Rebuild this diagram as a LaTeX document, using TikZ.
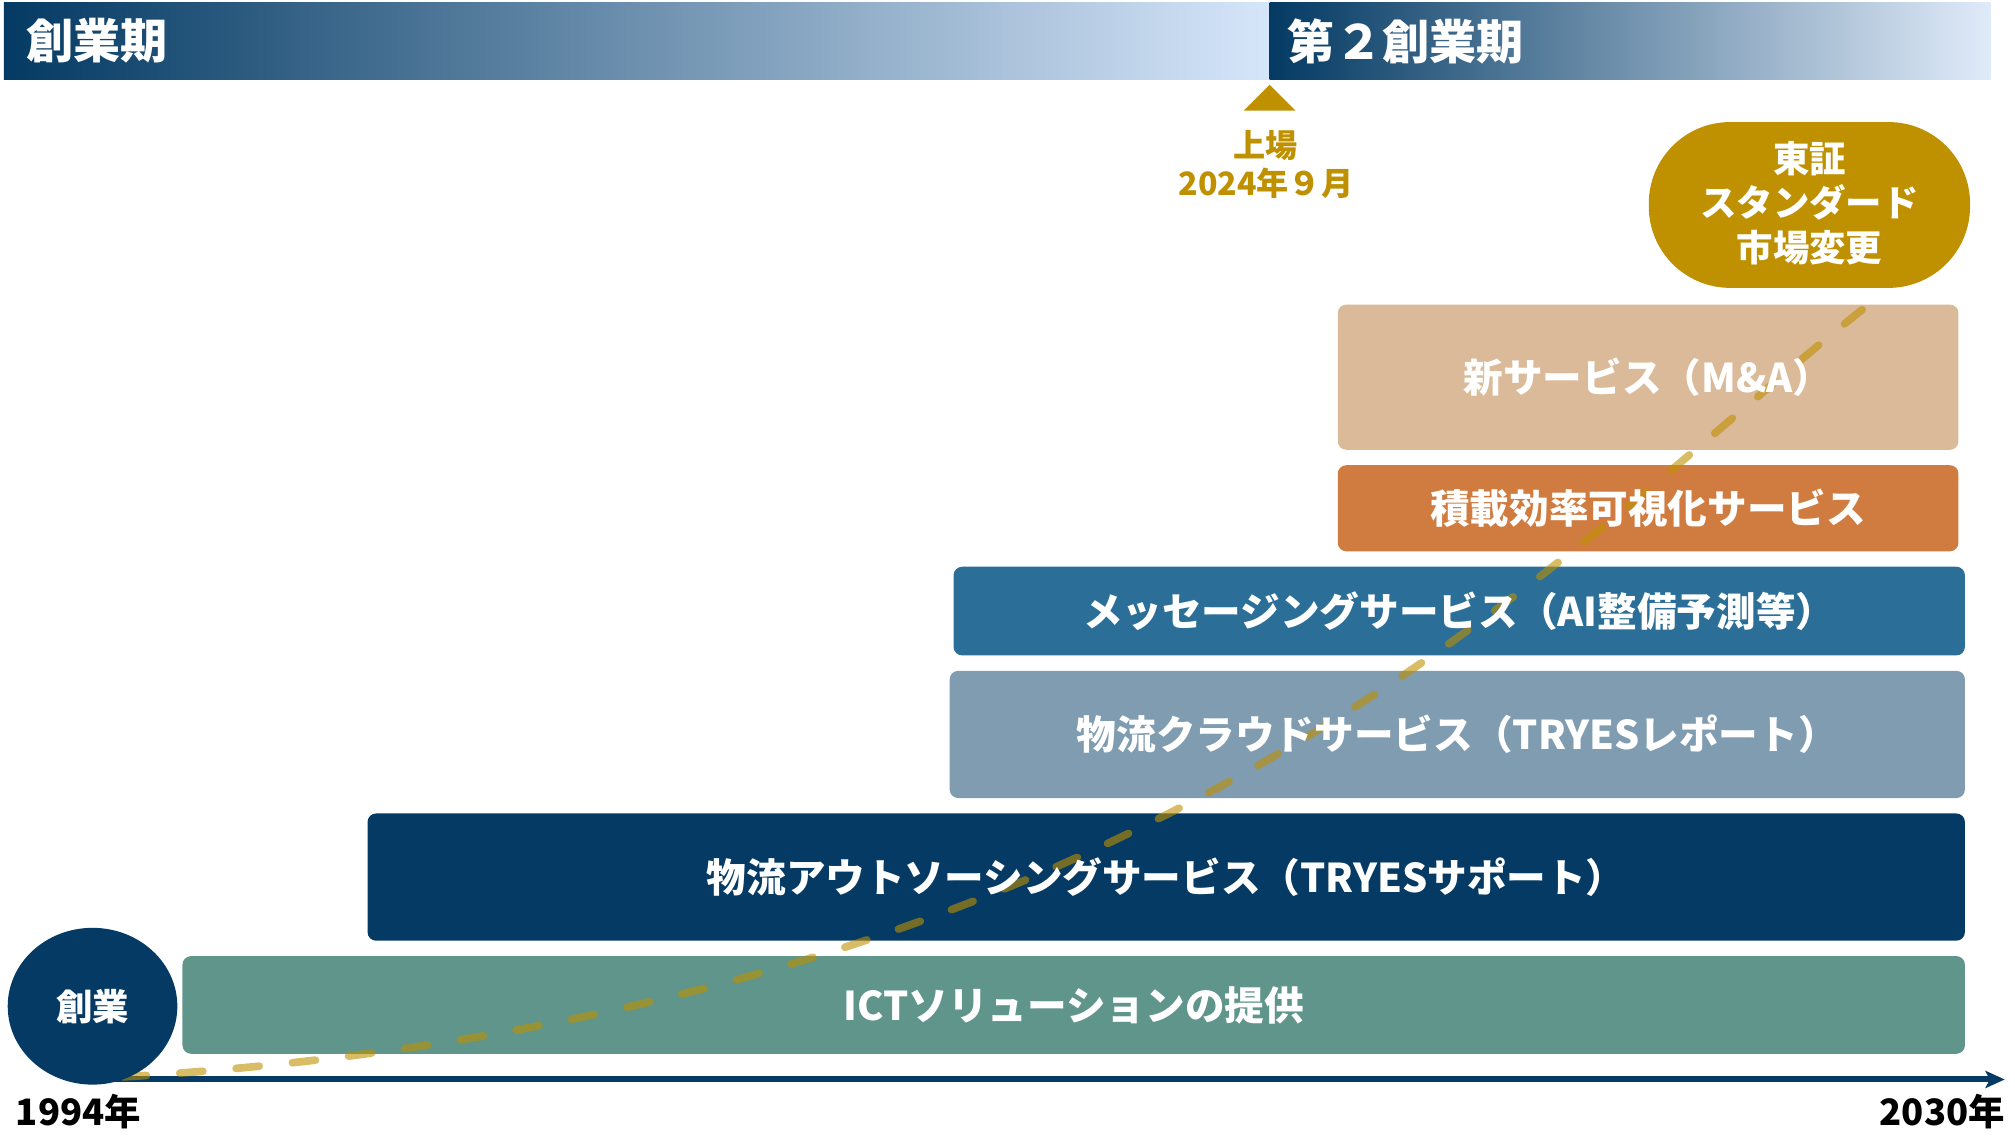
\documentclass[tikz,border=0pt]{standalone}
\usepackage{fontspec}
\newfontfamily\jp{Noto Sans CJK JP}
\usetikzlibrary{arrows.meta,shapes.geometric,fit}

\definecolor{navy}{HTML}{043A63}
\definecolor{paleblue}{HTML}{D6E6FA}
\definecolor{paleend}{HTML}{E0EBF9}
\definecolor{gold}{HTML}{BF9000}
\definecolor{sand}{HTML}{DBBA9A}
\definecolor{rust}{HTML}{D07C40}
\definecolor{steel}{HTML}{2B6F98}
\definecolor{slate}{HTML}{7F9CB1}
\definecolor{sage}{HTML}{5F958A}

\begin{document}
\begin{tikzpicture}[x=0.6pt,y=-0.6pt,
  era/.style={inner sep=0pt,left color=navy,right color=paleblue},
  eratext/.style={anchor=west,inner sep=0pt,text=white,font=\jp\bfseries\fontsize{22}{26}\selectfont},
  svc/.style={inner sep=0pt,rounded corners=4pt},
  svctext/.style={text=white,font=\jp\bfseries\fontsize{18.5}{22}\selectfont},
  yeartext/.style={font=\jp\bfseries\fontsize{17}{20}\selectfont},
  trend/.style={gold,opacity=0.6,line width=3.6pt,line cap=round,dash pattern=on 10.8pt off 15.6pt}]

\useasboundingbox (0,0) rectangle (1568,886);

\node[era,fit={(3,2) (988,62)}] (era1) {};
\node[era,right color=paleend,fit={(988,2) (1549,62)}] (era2) {};
\node[eratext] (era1title) at ([xshift=10.5pt]era1.west) {創業期};
\node[eratext] (era2title) at ([xshift=8.5pt]era2.west) {第２創業期};

\coordinate (ipo) at (988,66);
\fill[gold] (ipo) -- ++(20,20) -- ++(-40,0) -- cycle;
\node[text=gold,align=center,font=\jp\bfseries\fontsize{15}{18}\selectfont] (ipolabel) at (985,128) {上場\\2024年９月};

\node[fill=gold,rounded corners=38pt,inner sep=0pt,fit={(1283,95) (1533,224)}] (tse) {};
\node[text=white,align=center,font=\jp\bfseries\fontsize{17}{20.7}\selectfont] (tsetext) at (1408,158) {東証\\スタンダード\\市場変更};

% services
\node[svc,fill=sage,fit={(142,744) (1529,820)}] (ict) {};
\node[svc,fill=navy,fit={(286,633) (1529,732)}] (outsrc) {};
\node[svc,fill=slate,fit={(739,522) (1529,621)}] (cloud) {};
\node[svc,fill=steel,fit={(742,441) (1529,510)}] (msg) {};
\node[svc,fill=rust,fit={(1041,362) (1524,429)}] (load) {};
\node[svc,fill=sand,fit={(1041,237) (1524,350)}] (ma) {};

\coordinate (t0) at (72,840);
\coordinate (t1) at (1560,840);
\draw[navy,line width=2.8pt,-{Stealth[length=9pt,width=8pt,inset=2pt]}] (t0) -- (t1);

% growth
\coordinate (g0) at (96,838);
\coordinate (g1) at (1449,241);
\draw[trend] (g0) .. controls (900,790) and (1214,428) .. (g1);

\node[svctext] (icttext) at (ict) {ICTソリューションの提供};
\node[svctext] (outsrctext) at (outsrc) {物流アウトソーシングサービス（TRYESサポート）};
\node[svctext] (cloudtext) at (cloud) {物流クラウドサービス（TRYESレポート）};
\node[svctext] (msgtext) at (msg) {メッセージングサービス（AI整備予測等）};
\node[svctext] (loadtext) at (load) {積載効率可視化サービス};
\node[svctext] (matext) at (ma) {新サービス（M\&A）};

\node[ellipse,fill=navy,inner sep=0pt,minimum width=79.2pt,minimum height=73.2pt,
      text=white,font=\jp\bfseries\fontsize{17}{20}\selectfont] (founding) at (72,783) {創業};

\node[yeartext] (y1994) at (61,865) {1994年};
\node[yeartext,anchor=east] (y2030) at (1566,865) {2030年};

\end{tikzpicture}
\end{document}
